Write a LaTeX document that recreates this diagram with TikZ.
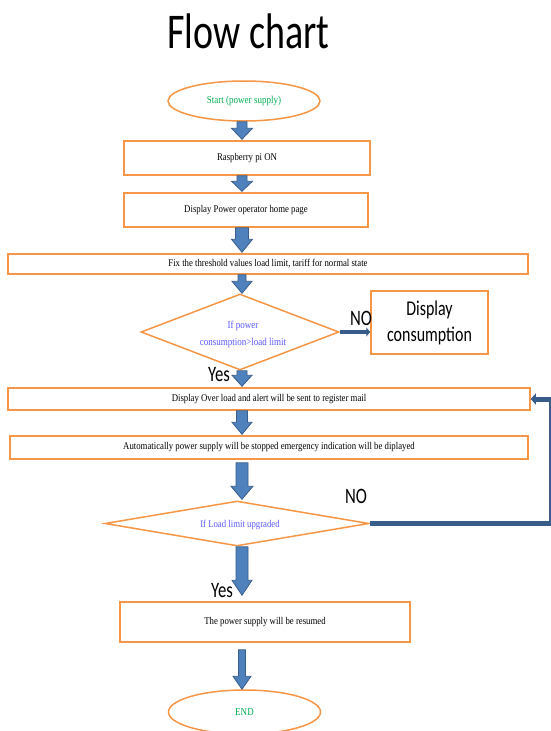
\documentclass[tikz,border=0pt]{standalone}
\usepackage{fontspec}
\setmainfont{Liberation Serif}
\newfontfamily\bodyfont[FakeStretch=0.85]{Liberation Serif}
\newfontfamily\labelfont[FakeStretch=0.76]{Carlito}
\usetikzlibrary{shapes.geometric,arrows.meta,calc}
\definecolor{boxorange}{RGB}{247,150,70}
\definecolor{arrowfill}{RGB}{79,129,189}
\definecolor{arrowline}{RGB}{56,93,138}
\definecolor{startgreen}{RGB}{0,176,80}
\definecolor{condblue}{RGB}{90,90,255}
\tikzset{
  procbox/.style={draw=boxorange, line width=1.5pt, rectangle, inner sep=0pt, align=center,
    font=\bodyfont\fontsize{10.3}{12}\selectfont, text=black},
  terminal/.style={draw=boxorange, line width=1.5pt, ellipse, inner sep=0pt,
    font=\bodyfont\fontsize{10.6}{12}\selectfont, text=startgreen},
  decision/.style={draw=boxorange, line width=1.5pt, diamond, inner sep=0pt},
  condtext/.style={inner sep=0pt, align=center, text=condblue},
  bigbox/.style={draw=boxorange, line width=1.5pt, rectangle, inner sep=0pt, align=center,
    font=\labelfont\fontsize{21}{26}\selectfont, text=black},
  blockarrow/.style={fill=arrowfill, draw=arrowline, line width=0.8pt, line join=miter},
  darkarrow/.style={draw=arrowline, line cap=butt},
  lbl/.style={font=\labelfont\fontsize{22}{24}\selectfont, inner sep=0pt, text=black},
  titletext/.style={font=\labelfont\fontsize{50}{56}\selectfont, inner sep=0pt, text=black}
}
% block arrow: #1 start, #2 end, #3 half shaft, #4 half head, #5 head length
\newcommand{\blockarr}[5]{%
  \draw[blockarrow] ($(#1)+(-#3,0)$) -- ($(#2)+(-#3,-#5)$) -- ($(#2)+(-#4,-#5)$) -- (#2)
    -- ($(#2)+(#4,-#5)$) -- ($(#2)+(#3,-#5)$) -- ($(#1)+(#3,0)$) -- cycle;}
\begin{document}
\begin{tikzpicture}[x=1pt,y=-1pt]
\useasboundingbox (0,0) rectangle (550,731);
\fill[white] (0,0) rectangle (550,731);

\node[titletext, anchor=base] (title) at (248.5,48) {Flow chart};

\node[terminal, minimum width=152pt, minimum height=40pt] (st) at (244,101) {Start (power supply)};
\node[procbox, minimum width=246pt, minimum height=34pt] (b1) at (247,158) {Raspberry pi ON};
\node[procbox, minimum width=244pt, minimum height=34pt] (b2) at (246,210) {Display Power operator home page};
\node[procbox, minimum width=520pt, minimum height=20pt] (b3) at (268,264) {Fix the threshold values load limit, tariff for normal state};
\node[decision, minimum width=198pt, minimum height=76pt] (d1) at (240,332) {};
\node[condtext, font=\bodyfont\fontsize{10.6}{17}\selectfont] (d1t) at (243,334) {If power\\consumption>load limit};
\node[bigbox, minimum width=117pt, minimum height=63pt] (dc) at (429.5,322.5) {Display\\consumption};
\node[procbox, minimum width=522pt, minimum height=22pt] (b5) at (269,399) {Display Over load and alert will be sent to register mail};
\node[procbox, minimum width=518pt, minimum height=23pt] (b6) at (269,447.5) {Automatically power supply will be stopped emergency indication will be diplayed};
\node[decision, minimum width=264pt, minimum height=45pt] (d2) at (237,523.5) {};
\node[condtext, font=\bodyfont\fontsize{10.3}{12}\selectfont] (d2t) at (240,525) {If Load limit upgraded};
\node[procbox, minimum width=290pt, minimum height=40pt] (b7) at (265,622) {The power supply will be resumed};
\node[terminal, minimum width=152pt, minimum height=44pt] (en) at (244.5,712) {END};

\node[lbl] (no1) at (361,318) {NO};
\node[lbl] (yes1) at (219,375) {Yes};
\node[lbl] (no2) at (356,496) {NO};
\node[lbl] (yes2) at (222,591) {Yes};

% arrow axis
\coordinate (ax) at (242,0);
\coordinate (a1s) at (ax |- st.south);
\coordinate (a1e) at ($(ax |- b1.north)+(0,-1)$);
\coordinate (a2s) at (ax |- b1.south);
\coordinate (a2e) at ($(ax |- b2.north)+(0,-1)$);
\coordinate (a3s) at (ax |- b2.south);
\coordinate (a3e) at ($(ax |- b3.north)+(0,-1)$);
\coordinate (a4s) at (ax |- b3.south);
\coordinate (a4e) at (ax |- d1.north);
\coordinate (a5s) at (ax |- d1.south);
\coordinate (a5e) at ($(ax |- b5.north)+(0,-1)$);
\coordinate (a6s) at (ax |- b5.south);
\coordinate (a6e) at ($(ax |- b6.north)+(0,-1)$);
\coordinate (a7s) at ($(ax |- b6.south)+(0,3)$);
\coordinate (a7e) at ($(ax |- d2.north)+(0,-1)$);
\coordinate (a8s) at (ax |- d2.south);
\coordinate (a8e) at ($(ax |- b7.north)+(0,-6)$);
\coordinate (a9s) at ($(ax |- b7.south)+(0,7)$);
\coordinate (a9e) at (ax |- en.north);

\blockarr{a1s}{a1e}{5}{10.5}{11}
\blockarr{a2s}{a2e}{5}{10.5}{10}
\blockarr{a3s}{a3e}{6.5}{10.5}{13}
\blockarr{a4s}{a4e}{4}{10}{12}
\blockarr{a5s}{a5e}{5}{10}{11}
\blockarr{a6s}{a6e}{5.5}{10}{12}
\blockarr{a7s}{a7e}{6}{11}{13}
\blockarr{a8s}{a8e}{6}{10}{15}
\blockarr{a9s}{a9e}{3.5}{9}{13}

% NO branch of first decision
\draw[darkarrow, line width=4pt, -{Triangle[length=4pt,width=9pt]}] (d1.east) -- (d1.east -| dc.west);

% NO loop of second decision back to alert box
\coordinate (lx) at (551.5,0);
\draw[darkarrow, line width=5pt, -{Triangle[length=5pt,width=11pt]}]
  (d2.east) -- (d2.east -| lx) |- (b5.east);
\end{tikzpicture}
\end{document}
